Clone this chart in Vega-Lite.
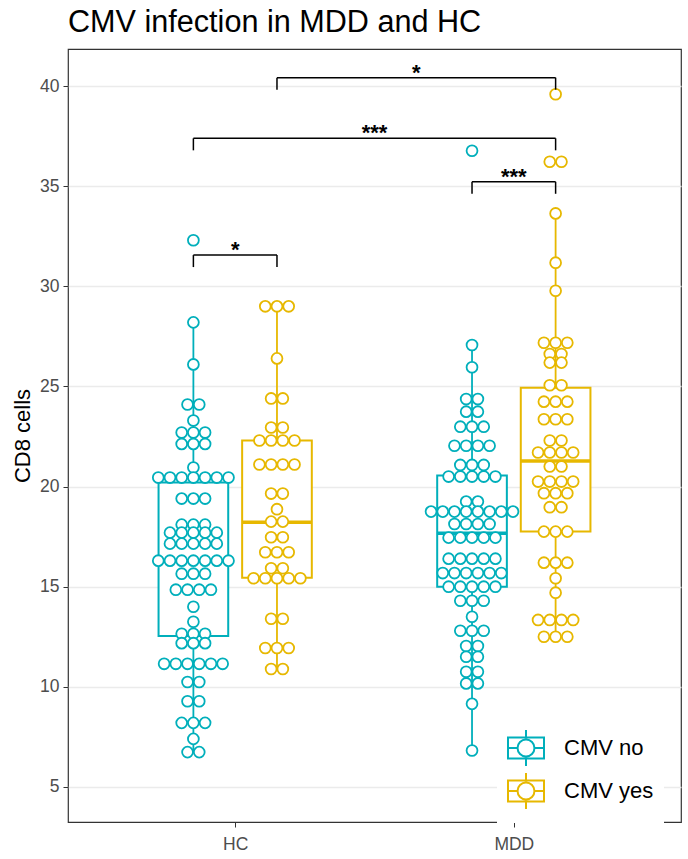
{
  "$schema": "https://vega.github.io/schema/vega-lite/v6.json",
  "width": 613,
  "height": 773,
  "autosize": {"type": "none"},
  "padding": {"left": 68, "top": 49, "right": 7, "bottom": 37},
  "background": "white",
  "title": {"text": "CMV infection in MDD and HC", "anchor": "start", "frame": "group", "fontSize": 30.6, "font": "Liberation Sans", "fontWeight": "normal", "color": "#000000", "offset": 10},
  "config": {
    "font": "Liberation Sans",
    "view": {"stroke": "#333333", "strokeWidth": 1.2}
  },
  "datasets": {
    "dots": [
      {"group":"HC","cmv":"CMV no","cd8":32.3},
      {"group":"HC","cmv":"CMV no","cd8":28.2},
      {"group":"HC","cmv":"CMV no","cd8":26.1},
      {"group":"HC","cmv":"CMV no","cd8":24.1},{"group":"HC","cmv":"CMV no","cd8":24.1},
      {"group":"HC","cmv":"CMV no","cd8":23.3},
      {"group":"HC","cmv":"CMV no","cd8":22.7},{"group":"HC","cmv":"CMV no","cd8":22.7},{"group":"HC","cmv":"CMV no","cd8":22.7},
      {"group":"HC","cmv":"CMV no","cd8":22.13},{"group":"HC","cmv":"CMV no","cd8":22.13},{"group":"HC","cmv":"CMV no","cd8":22.13},
      {"group":"HC","cmv":"CMV no","cd8":20.95},
      {"group":"HC","cmv":"CMV no","cd8":20.45},{"group":"HC","cmv":"CMV no","cd8":20.45},{"group":"HC","cmv":"CMV no","cd8":20.45},{"group":"HC","cmv":"CMV no","cd8":20.45},{"group":"HC","cmv":"CMV no","cd8":20.45},{"group":"HC","cmv":"CMV no","cd8":20.45},{"group":"HC","cmv":"CMV no","cd8":20.45},
      {"group":"HC","cmv":"CMV no","cd8":19.4},{"group":"HC","cmv":"CMV no","cd8":19.4},{"group":"HC","cmv":"CMV no","cd8":19.4},
      {"group":"HC","cmv":"CMV no","cd8":18.1},{"group":"HC","cmv":"CMV no","cd8":18.1},{"group":"HC","cmv":"CMV no","cd8":18.1},
      {"group":"HC","cmv":"CMV no","cd8":17.7},{"group":"HC","cmv":"CMV no","cd8":17.7},{"group":"HC","cmv":"CMV no","cd8":17.7},{"group":"HC","cmv":"CMV no","cd8":17.7},{"group":"HC","cmv":"CMV no","cd8":17.7},
      {"group":"HC","cmv":"CMV no","cd8":17.15},{"group":"HC","cmv":"CMV no","cd8":17.15},{"group":"HC","cmv":"CMV no","cd8":17.15},{"group":"HC","cmv":"CMV no","cd8":17.15},{"group":"HC","cmv":"CMV no","cd8":17.15},
      {"group":"HC","cmv":"CMV no","cd8":16.3},{"group":"HC","cmv":"CMV no","cd8":16.3},{"group":"HC","cmv":"CMV no","cd8":16.3},{"group":"HC","cmv":"CMV no","cd8":16.3},{"group":"HC","cmv":"CMV no","cd8":16.3},{"group":"HC","cmv":"CMV no","cd8":16.3},{"group":"HC","cmv":"CMV no","cd8":16.3},
      {"group":"HC","cmv":"CMV no","cd8":15.65},{"group":"HC","cmv":"CMV no","cd8":15.65},{"group":"HC","cmv":"CMV no","cd8":15.65},
      {"group":"HC","cmv":"CMV no","cd8":14.85},{"group":"HC","cmv":"CMV no","cd8":14.85},{"group":"HC","cmv":"CMV no","cd8":14.85},{"group":"HC","cmv":"CMV no","cd8":14.85},
      {"group":"HC","cmv":"CMV no","cd8":14.0},
      {"group":"HC","cmv":"CMV no","cd8":13.25},
      {"group":"HC","cmv":"CMV no","cd8":12.65},{"group":"HC","cmv":"CMV no","cd8":12.65},{"group":"HC","cmv":"CMV no","cd8":12.65},
      {"group":"HC","cmv":"CMV no","cd8":12.18},{"group":"HC","cmv":"CMV no","cd8":12.18},{"group":"HC","cmv":"CMV no","cd8":12.18},
      {"group":"HC","cmv":"CMV no","cd8":11.15},{"group":"HC","cmv":"CMV no","cd8":11.15},{"group":"HC","cmv":"CMV no","cd8":11.15},{"group":"HC","cmv":"CMV no","cd8":11.15},{"group":"HC","cmv":"CMV no","cd8":11.15},{"group":"HC","cmv":"CMV no","cd8":11.15},
      {"group":"HC","cmv":"CMV no","cd8":10.24},{"group":"HC","cmv":"CMV no","cd8":10.24},
      {"group":"HC","cmv":"CMV no","cd8":9.28},{"group":"HC","cmv":"CMV no","cd8":9.28},
      {"group":"HC","cmv":"CMV no","cd8":8.2},{"group":"HC","cmv":"CMV no","cd8":8.2},{"group":"HC","cmv":"CMV no","cd8":8.2},
      {"group":"HC","cmv":"CMV no","cd8":7.4},
      {"group":"HC","cmv":"CMV no","cd8":6.74},{"group":"HC","cmv":"CMV no","cd8":6.74},

      {"group":"HC","cmv":"CMV yes","cd8":29.0},{"group":"HC","cmv":"CMV yes","cd8":29.0},{"group":"HC","cmv":"CMV yes","cd8":29.0},
      {"group":"HC","cmv":"CMV yes","cd8":26.4},
      {"group":"HC","cmv":"CMV yes","cd8":24.4},{"group":"HC","cmv":"CMV yes","cd8":24.4},
      {"group":"HC","cmv":"CMV yes","cd8":22.95},{"group":"HC","cmv":"CMV yes","cd8":22.95},
      {"group":"HC","cmv":"CMV yes","cd8":22.3},{"group":"HC","cmv":"CMV yes","cd8":22.3},{"group":"HC","cmv":"CMV yes","cd8":22.3},{"group":"HC","cmv":"CMV yes","cd8":22.3},
      {"group":"HC","cmv":"CMV yes","cd8":21.1},{"group":"HC","cmv":"CMV yes","cd8":21.1},{"group":"HC","cmv":"CMV yes","cd8":21.1},{"group":"HC","cmv":"CMV yes","cd8":21.1},
      {"group":"HC","cmv":"CMV yes","cd8":19.65},{"group":"HC","cmv":"CMV yes","cd8":19.65},
      {"group":"HC","cmv":"CMV yes","cd8":18.87},
      {"group":"HC","cmv":"CMV yes","cd8":18.25},{"group":"HC","cmv":"CMV yes","cd8":18.25},
      {"group":"HC","cmv":"CMV yes","cd8":17.47},{"group":"HC","cmv":"CMV yes","cd8":17.47},
      {"group":"HC","cmv":"CMV yes","cd8":16.72},{"group":"HC","cmv":"CMV yes","cd8":16.72},{"group":"HC","cmv":"CMV yes","cd8":16.72},
      {"group":"HC","cmv":"CMV yes","cd8":15.92},{"group":"HC","cmv":"CMV yes","cd8":15.92},
      {"group":"HC","cmv":"CMV yes","cd8":15.42},{"group":"HC","cmv":"CMV yes","cd8":15.42},{"group":"HC","cmv":"CMV yes","cd8":15.42},{"group":"HC","cmv":"CMV yes","cd8":15.42},{"group":"HC","cmv":"CMV yes","cd8":15.42},
      {"group":"HC","cmv":"CMV yes","cd8":13.4},{"group":"HC","cmv":"CMV yes","cd8":13.4},
      {"group":"HC","cmv":"CMV yes","cd8":11.94},{"group":"HC","cmv":"CMV yes","cd8":11.94},{"group":"HC","cmv":"CMV yes","cd8":11.94},
      {"group":"HC","cmv":"CMV yes","cd8":10.89},{"group":"HC","cmv":"CMV yes","cd8":10.89},

      {"group":"MDD","cmv":"CMV no","cd8":36.77},
      {"group":"MDD","cmv":"CMV no","cd8":27.07},
      {"group":"MDD","cmv":"CMV no","cd8":25.96},
      {"group":"MDD","cmv":"CMV no","cd8":24.37},{"group":"MDD","cmv":"CMV no","cd8":24.37},
      {"group":"MDD","cmv":"CMV no","cd8":23.74},{"group":"MDD","cmv":"CMV no","cd8":23.74},
      {"group":"MDD","cmv":"CMV no","cd8":22.99},{"group":"MDD","cmv":"CMV no","cd8":22.99},{"group":"MDD","cmv":"CMV no","cd8":22.99},
      {"group":"MDD","cmv":"CMV no","cd8":22.04},{"group":"MDD","cmv":"CMV no","cd8":22.04},{"group":"MDD","cmv":"CMV no","cd8":22.04},{"group":"MDD","cmv":"CMV no","cd8":22.04},
      {"group":"MDD","cmv":"CMV no","cd8":21.08},{"group":"MDD","cmv":"CMV no","cd8":21.08},{"group":"MDD","cmv":"CMV no","cd8":21.08},
      {"group":"MDD","cmv":"CMV no","cd8":20.5},{"group":"MDD","cmv":"CMV no","cd8":20.5},{"group":"MDD","cmv":"CMV no","cd8":20.5},{"group":"MDD","cmv":"CMV no","cd8":20.5},{"group":"MDD","cmv":"CMV no","cd8":20.5},
      {"group":"MDD","cmv":"CMV no","cd8":19.25},{"group":"MDD","cmv":"CMV no","cd8":19.25},
      {"group":"MDD","cmv":"CMV no","cd8":18.75},{"group":"MDD","cmv":"CMV no","cd8":18.75},{"group":"MDD","cmv":"CMV no","cd8":18.75},{"group":"MDD","cmv":"CMV no","cd8":18.75},{"group":"MDD","cmv":"CMV no","cd8":18.75},{"group":"MDD","cmv":"CMV no","cd8":18.75},{"group":"MDD","cmv":"CMV no","cd8":18.75},{"group":"MDD","cmv":"CMV no","cd8":18.75},
      {"group":"MDD","cmv":"CMV no","cd8":18.13},{"group":"MDD","cmv":"CMV no","cd8":18.13},{"group":"MDD","cmv":"CMV no","cd8":18.13},{"group":"MDD","cmv":"CMV no","cd8":18.13},
      {"group":"MDD","cmv":"CMV no","cd8":17.45},{"group":"MDD","cmv":"CMV no","cd8":17.45},{"group":"MDD","cmv":"CMV no","cd8":17.45},{"group":"MDD","cmv":"CMV no","cd8":17.45},{"group":"MDD","cmv":"CMV no","cd8":17.45},
      {"group":"MDD","cmv":"CMV no","cd8":16.4},{"group":"MDD","cmv":"CMV no","cd8":16.4},{"group":"MDD","cmv":"CMV no","cd8":16.4},{"group":"MDD","cmv":"CMV no","cd8":16.4},{"group":"MDD","cmv":"CMV no","cd8":16.4},
      {"group":"MDD","cmv":"CMV no","cd8":15.68},{"group":"MDD","cmv":"CMV no","cd8":15.68},{"group":"MDD","cmv":"CMV no","cd8":15.68},{"group":"MDD","cmv":"CMV no","cd8":15.68},{"group":"MDD","cmv":"CMV no","cd8":15.68},{"group":"MDD","cmv":"CMV no","cd8":15.68},
      {"group":"MDD","cmv":"CMV no","cd8":15.0},{"group":"MDD","cmv":"CMV no","cd8":15.0},{"group":"MDD","cmv":"CMV no","cd8":15.0},{"group":"MDD","cmv":"CMV no","cd8":15.0},{"group":"MDD","cmv":"CMV no","cd8":15.0},
      {"group":"MDD","cmv":"CMV no","cd8":14.3},{"group":"MDD","cmv":"CMV no","cd8":14.3},{"group":"MDD","cmv":"CMV no","cd8":14.3},
      {"group":"MDD","cmv":"CMV no","cd8":13.5},
      {"group":"MDD","cmv":"CMV no","cd8":12.8},{"group":"MDD","cmv":"CMV no","cd8":12.8},{"group":"MDD","cmv":"CMV no","cd8":12.8},
      {"group":"MDD","cmv":"CMV no","cd8":12.04},{"group":"MDD","cmv":"CMV no","cd8":12.04},
      {"group":"MDD","cmv":"CMV no","cd8":11.5},{"group":"MDD","cmv":"CMV no","cd8":11.5},
      {"group":"MDD","cmv":"CMV no","cd8":10.75},{"group":"MDD","cmv":"CMV no","cd8":10.75},
      {"group":"MDD","cmv":"CMV no","cd8":10.17},{"group":"MDD","cmv":"CMV no","cd8":10.17},
      {"group":"MDD","cmv":"CMV no","cd8":9.15},
      {"group":"MDD","cmv":"CMV no","cd8":6.82},

      {"group":"MDD","cmv":"CMV yes","cd8":39.59},
      {"group":"MDD","cmv":"CMV yes","cd8":36.22},{"group":"MDD","cmv":"CMV yes","cd8":36.22},
      {"group":"MDD","cmv":"CMV yes","cd8":33.64},
      {"group":"MDD","cmv":"CMV yes","cd8":31.18},
      {"group":"MDD","cmv":"CMV yes","cd8":29.78},
      {"group":"MDD","cmv":"CMV yes","cd8":27.18},{"group":"MDD","cmv":"CMV yes","cd8":27.18},{"group":"MDD","cmv":"CMV yes","cd8":27.18},
      {"group":"MDD","cmv":"CMV yes","cd8":26.62},{"group":"MDD","cmv":"CMV yes","cd8":26.62},
      {"group":"MDD","cmv":"CMV yes","cd8":26.19},{"group":"MDD","cmv":"CMV yes","cd8":26.19},
      {"group":"MDD","cmv":"CMV yes","cd8":25.06},{"group":"MDD","cmv":"CMV yes","cd8":25.06},
      {"group":"MDD","cmv":"CMV yes","cd8":24.24},{"group":"MDD","cmv":"CMV yes","cd8":24.24},{"group":"MDD","cmv":"CMV yes","cd8":24.24},
      {"group":"MDD","cmv":"CMV yes","cd8":23.36},{"group":"MDD","cmv":"CMV yes","cd8":23.36},{"group":"MDD","cmv":"CMV yes","cd8":23.36},
      {"group":"MDD","cmv":"CMV yes","cd8":22.3},{"group":"MDD","cmv":"CMV yes","cd8":22.3},
      {"group":"MDD","cmv":"CMV yes","cd8":21.7},{"group":"MDD","cmv":"CMV yes","cd8":21.7},{"group":"MDD","cmv":"CMV yes","cd8":21.7},{"group":"MDD","cmv":"CMV yes","cd8":21.7},
      {"group":"MDD","cmv":"CMV yes","cd8":21.0},{"group":"MDD","cmv":"CMV yes","cd8":21.0},
      {"group":"MDD","cmv":"CMV yes","cd8":20.25},{"group":"MDD","cmv":"CMV yes","cd8":20.25},{"group":"MDD","cmv":"CMV yes","cd8":20.25},{"group":"MDD","cmv":"CMV yes","cd8":20.25},
      {"group":"MDD","cmv":"CMV yes","cd8":19.67},{"group":"MDD","cmv":"CMV yes","cd8":19.67},{"group":"MDD","cmv":"CMV yes","cd8":19.67},
      {"group":"MDD","cmv":"CMV yes","cd8":18.97},{"group":"MDD","cmv":"CMV yes","cd8":18.97},
      {"group":"MDD","cmv":"CMV yes","cd8":17.75},{"group":"MDD","cmv":"CMV yes","cd8":17.75},{"group":"MDD","cmv":"CMV yes","cd8":17.75},
      {"group":"MDD","cmv":"CMV yes","cd8":16.2},{"group":"MDD","cmv":"CMV yes","cd8":16.2},{"group":"MDD","cmv":"CMV yes","cd8":16.2},
      {"group":"MDD","cmv":"CMV yes","cd8":15.42},
      {"group":"MDD","cmv":"CMV yes","cd8":14.7},
      {"group":"MDD","cmv":"CMV yes","cd8":13.34},{"group":"MDD","cmv":"CMV yes","cd8":13.34},{"group":"MDD","cmv":"CMV yes","cd8":13.34},{"group":"MDD","cmv":"CMV yes","cd8":13.34},
      {"group":"MDD","cmv":"CMV yes","cd8":12.5},{"group":"MDD","cmv":"CMV yes","cd8":12.5},{"group":"MDD","cmv":"CMV yes","cd8":12.5}
    ],
    "boxes": [
      {"group":"HC","cmv":"CMV no","lower":6.74,"q1":12.54,"median":16.3,"q3":20.2,"upper":28.2},
      {"group":"HC","cmv":"CMV yes","lower":10.89,"q1":15.45,"median":18.22,"q3":22.3,"upper":29.0},
      {"group":"MDD","cmv":"CMV no","lower":6.82,"q1":15.0,"median":17.67,"q3":20.55,"upper":27.07},
      {"group":"MDD","cmv":"CMV yes","lower":12.5,"q1":17.75,"median":21.28,"q3":24.94,"upper":33.64}
    ],
    "brackets": [
      {"group1":"HC","cmv1":"CMV no","group2":"HC","cmv2":"CMV yes","y":31.56,"label":"*"},
      {"group1":"HC","cmv1":"CMV no","group2":"MDD","cmv2":"CMV yes","y":37.39,"label":"***"},
      {"group1":"MDD","cmv1":"CMV no","group2":"MDD","cmv2":"CMV yes","y":35.22,"label":"***"},
      {"group1":"HC","cmv1":"CMV yes","group2":"MDD","cmv2":"CMV yes","y":40.42,"label":"*"}
    ]
  },
  "layer": [
    {
      "data": {"name": "boxes"},
      "transform": [
        {"calculate": "(datum.group === 'HC' ? 1 : 2) + (datum.cmv === 'CMV no' ? -0.15 : 0.15)", "as": "bx"},
        {"calculate": "datum.bx - 0.125", "as": "bxl"},
        {"calculate": "datum.bx + 0.125", "as": "bxr"}
      ],
      "layer": [
        {
          "mark": {"type": "rule", "strokeWidth": 1.8},
          "encoding": {
            "x": {"field": "bx", "type": "quantitative", "scale": {"domain": [0.4, 2.6], "nice": false, "zero": false},
                  "axis": {"values": [1, 2], "labelExpr": "datum.value == 1 ? 'HC' : 'MDD'", "grid": false, "domain": false, "title": null, "tickColor": "#333333", "tickSize": 5, "labelFontSize": 17.5, "labelColor": "#4D4D4D", "labelPadding": 8}},
            "y": {"field": "lower", "type": "quantitative", "scale": {"domain": [3.25, 41.85], "nice": false, "zero": false},
                  "axis": {"values": [5, 10, 15, 20, 25, 30, 35, 40], "grid": true, "gridColor": "#EBEBEB", "gridWidth": 1.5, "domain": false, "tickColor": "#333333", "tickSize": 5, "labelFontSize": 17.5, "labelColor": "#4D4D4D", "labelPadding": 4, "title": "CD8 cells", "titleFontSize": 22, "titleFontWeight": "normal", "titleColor": "#000000", "titlePadding": 5}},
            "y2": {"field": "upper"},
            "stroke": {"field": "cmv", "type": "nominal", "scale": {"domain": ["CMV no", "CMV yes"], "range": ["#00AFBB", "#E7B800"]},
              "legend": {"title": null, "orient": "none", "legendX": 429, "legendY": 670, "padding": 10, "fillColor": "white",
                     "symbolType": "M-1,-0.58H1V0.58H-1Z M0,-1V-0.58 M0,0.58V1 M-1,0H-0.47 M0.47,0H1 M-0.47,0A0.47,0.47,0,1,1,0.47,0A0.47,0.47,0,1,1,-0.47,0Z",
                     "symbolSize": 1296, "symbolStrokeWidth": 2, "symbolFillColor": "white", "symbolOpacity": 1,
                     "labelFontSize": 22, "labelColor": "#000000", "labelOffset": 19, "rowPadding": -1}}
          }
        },
        {
          "mark": {"type": "rect", "fill": "white", "strokeWidth": 2},
          "encoding": {
            "x": {"field": "bxl", "type": "quantitative"},
            "x2": {"field": "bxr"},
            "y": {"field": "q1", "type": "quantitative", "title": "CD8 cells"},
            "y2": {"field": "q3"},
            "stroke": {"field": "cmv", "type": "nominal"}
          }
        },
        {
          "mark": {"type": "rule", "strokeWidth": 3.5},
          "encoding": {
            "x": {"field": "bxl", "type": "quantitative"},
            "x2": {"field": "bxr"},
            "y": {"field": "median", "type": "quantitative", "title": "CD8 cells"},
            "stroke": {"field": "cmv", "type": "nominal"}
          }
        }
      ]
    },
    {
      "data": {"name": "dots"},
      "transform": [
        {"window": [{"op": "row_number", "as": "k"}, {"op": "count", "as": "n"}], "groupby": ["group", "cmv", "cd8"], "frame": [null, null]},
        {"calculate": "(datum.group === 'HC' ? 1 : 2) + (datum.cmv === 'CMV no' ? -0.15 : 0.15) + (datum.k - (datum.n + 1) / 2) * 0.042", "as": "xd"}
      ],
      "mark": {"type": "point", "shape": "circle", "size": 118, "filled": false, "fill": "white", "fillOpacity": 1, "strokeWidth": 1.8, "opacity": 1},
      "encoding": {
        "x": {"field": "xd", "type": "quantitative"},
        "y": {"field": "cd8", "type": "quantitative", "title": "CD8 cells"},
        "stroke": {"field": "cmv", "type": "nominal"}
      }
    },
    {
      "data": {"name": "brackets"},
      "transform": [
        {"calculate": "(datum.group1 === 'HC' ? 1 : 2) + (datum.cmv1 === 'CMV no' ? -0.15 : 0.15)", "as": "x1"},
        {"calculate": "(datum.group2 === 'HC' ? 1 : 2) + (datum.cmv2 === 'CMV no' ? -0.15 : 0.15)", "as": "x2"},
        {"calculate": "(datum.x1 + datum.x2) / 2", "as": "xm"},
        {"calculate": "datum.y - 0.6", "as": "ytip"}
      ],
      "layer": [
        {
          "mark": {"type": "rule", "color": "#000000", "strokeWidth": 1.5},
          "encoding": {"x": {"field": "x1", "type": "quantitative"}, "x2": {"field": "x2"}, "y": {"field": "y", "type": "quantitative", "title": "CD8 cells"}}
        },
        {
          "mark": {"type": "rule", "color": "#000000", "strokeWidth": 1.5},
          "encoding": {"x": {"field": "x1", "type": "quantitative"}, "y": {"field": "y", "type": "quantitative", "title": "CD8 cells"}, "y2": {"field": "ytip"}}
        },
        {
          "mark": {"type": "rule", "color": "#000000", "strokeWidth": 1.5},
          "encoding": {"x": {"field": "x2", "type": "quantitative"}, "y": {"field": "y", "type": "quantitative", "title": "CD8 cells"}, "y2": {"field": "ytip"}}
        },
        {
          "mark": {"type": "text", "fontSize": 22, "fontWeight": "bold", "color": "#000000", "baseline": "alphabetic", "align": "center", "dy": 2},
          "encoding": {"x": {"field": "xm", "type": "quantitative"}, "y": {"field": "y", "type": "quantitative", "title": "CD8 cells"}, "text": {"field": "label"}}
        }
      ]
    }
  ]
}
